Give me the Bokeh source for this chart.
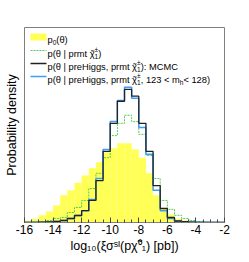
import numpy as np
from bokeh.plotting import figure
from bokeh.models import Label, BoxAnnotation, Arrow, FixedTicker, Range1d
from bokeh.embed import file_html
from bokeh.resources import INLINE

# ---------------- data ----------------
bin_edges = [-16.0, -15.5, -15.0, -14.5, -14.0, -13.5, -13.0, -12.5, -12.0, -11.5,
             -11.0, -10.5, -10.0, -9.5, -9.0, -8.5, -8.0, -7.5, -7.0, -6.5,
             -6.0, -5.5, -5.0, -4.5, -4.0, -3.5, -3.0, -2.5, -2.0]

prior = [0.005, 0.009, 0.017, 0.026, 0.040, 0.064, 0.076, 0.094, 0.111, 0.128,
         0.142, 0.165, 0.175, 0.187, 0.187, 0.172, 0.153, 0.116, 0.064, 0.033,
         0.019, 0.009, 0.005, 0.002, 0.001, 0.0007, 0.0005, 0.0002]

prmt = [0.0007, 0.0012, 0.0024, 0.0047, 0.0094, 0.0118, 0.0236, 0.0354, 0.052, 0.080,
        0.116, 0.153, 0.205, 0.234, 0.253, 0.238, 0.208, 0.158, 0.104, 0.052,
        0.031, 0.017, 0.0094, 0.0047, 0.0024, 0.0014, 0.0007, 0.0005]

prehiggs_mcmc = [0.0002, 0.0005, 0.0007, 0.0014, 0.0024, 0.0047, 0.0094, 0.0165, 0.028, 0.052,
                 0.099, 0.168, 0.234, 0.286, 0.314, 0.298, 0.234, 0.168, 0.087, 0.033,
                 0.0118, 0.0035, 0.0019, 0.0009, 0.0005, 0.0002, 0.0002, 0.0001]

prehiggs_mh = [0.0002, 0.0005, 0.0007, 0.0014, 0.0024, 0.0047, 0.0094, 0.0165, 0.028, 0.054,
               0.104, 0.172, 0.238, 0.288, 0.319, 0.293, 0.224, 0.161, 0.076, 0.028,
               0.0094, 0.0028, 0.0017, 0.0009, 0.0005, 0.0002, 0.0002, 0.0001]

x_ticks = [-16, -14, -12, -10, -8, -6, -4, -2]
x_tick_labels = ["-16", "-14", "-12", "-10", "-8", "-6", "-4", "-2"]

x_title = "log\u2081\u2080(\u03be\u03c3\u02e2\u1d35(p\u03c7\u0303\u2070\u2081) [pb])"
y_title = "Probability density"

# ---------------- figure ----------------
FONT = "Liberation Sans"
FL, FB = 24, 222   # frame left / bottom in picture pixels (for annotations)

p = figure(width=245, height=258, x_range=Range1d(-16, -2), y_range=Range1d(0, 0.46),
           output_backend="svg", toolbar_location=None,
           min_border_left=24, min_border_right=21, min_border_top=27, min_border_bottom=36)
p.xgrid.visible = False
p.ygrid.visible = False
p.outline_line_color = "#808080"
p.outline_line_width = 1

minor = list(np.arange(-16, -2.01, 0.5))
p.xaxis.ticker = FixedTicker(ticks=x_ticks, minor_ticks=minor)
p.xaxis.major_label_overrides = {t: l for t, l in zip(x_ticks, x_tick_labels)}
p.xaxis.axis_line_color = "#808080"
p.xaxis.major_tick_in = 5
p.xaxis.major_tick_out = 0
p.xaxis.minor_tick_in = 3
p.xaxis.minor_tick_out = 0
p.xaxis.major_tick_line_color = "#444444"
p.xaxis.minor_tick_line_color = "#444444"
p.xaxis.major_label_text_font = FONT
p.xaxis.major_label_text_font_size = "12px"
p.xaxis.major_label_text_color = "black"
p.xaxis.major_label_standoff = 2
p.xaxis.axis_label = x_title
p.xaxis.axis_label_text_font = FONT
p.xaxis.axis_label_text_font_size = "12.5px"
p.xaxis.axis_label_text_font_style = "normal"
p.xaxis.axis_label_text_color = "black"
p.xaxis.axis_label_standoff = 2

p.yaxis.ticker = FixedTicker(ticks=[])
p.yaxis.axis_line_color = None
p.yaxis.major_tick_line_color = None
p.yaxis.minor_tick_line_color = None
p.yaxis.major_label_standoff = 0
p.yaxis.axis_label = y_title
p.yaxis.axis_label_text_font = FONT
p.yaxis.axis_label_text_font_size = "12.5px"
p.yaxis.axis_label_text_font_style = "normal"
p.yaxis.axis_label_text_color = "black"
p.yaxis.axis_label_standoff = 6

left = bin_edges[:-1]
right = bin_edges[1:]
p.quad(left=left, right=right, bottom=0, top=prior, fill_color="#ffff55", line_color=None)

def stepy(v):
    return list(v) + [v[-1]]

p.step(x=bin_edges, y=stepy(prmt), mode="after", line_color="#55cc55", line_width=1, line_dash="2 1")
p.step(x=bin_edges, y=stepy(prehiggs_mh), mode="after", line_color="#3d9eff", line_width=1.5)
p.step(x=bin_edges, y=stepy(prehiggs_mcmc), mode="after", line_color="#222222", line_width=1.3)

# ---------------- rich text helpers (legend) ----------------
W = {' ': 278, '(': 333, ')': 333, ',': 278, '-': 333, '.': 278, ':': 278, '<': 584,
     '[': 278, ']': 278, '|': 260, '±': 584, 'a': 556, 'b': 556, 'c': 500, 'd': 556,
     'e': 556, 'g': 556, 'h': 556, 'i': 222, 'l': 222, 'm': 833, 'n': 556, 'o': 556,
     'p': 556, 'r': 333, 's': 500, 't': 278, 'y': 500, 'C': 722, 'G': 778, 'H': 722,
     'I': 278, 'M': 833, 'S': 667, 'P': 667, 'θ': 556, 'χ': 520, 'ξ': 470, 'σ': 580}

def tw(s, size):
    return sum(W.get(c, 556) for c in s) * size / 1000.0

def lab(x, y, text, size, align="left"):
    p.add_layout(Label(x=x - FL, y=FB - y, x_units="screen", y_units="screen",
                       text=text, text_font=FONT, text_font_size=f"{size}px",
                       text_color="black", text_baseline="alphabetic", text_align=align))

def rich(x0, y0, pieces, size):
    ss = size * 0.7
    x = x0
    for t, m in pieces:
        if m == "n":
            lab(x, y0, t.rstrip(), size)
            x += tw(t, size)
        elif m == "chi":
            w = tw("χ", size)
            lab(x, y0, "χ", size)
            lab(x + w / 2 + 0.3, y0 + 0.3, "\u02dc", size, align="center")
            x += w
        elif m == "sub":
            lab(x, y0 + size * 0.28, t, ss)
            x += tw(t, ss)
        elif m == "sup":
            lab(x, y0 - size * 0.42, t, ss)
            x += tw(t, ss)
        else:
            lab(x, y0 - size * 0.45, t[0], ss)
            lab(x, y0 + size * 0.3, t[1], ss)
            x += max(tw(t[0], ss), tw(t[1], ss))

# ---------------- legend ----------------
LS = 9.3
legend_rows = [
    [("p", "n"), ("0", "sub"), ("(θ)", "n")],
    [("p(θ | prmt ", "n"), ("χ", "chi"), (("±", "1"), "supsub"), (")", "n")],
    [("p(θ | preHiggs, prmt ", "n"), ("χ", "chi"), (("±", "1"), "supsub"), ("): MCMC", "n")],
    [("p(θ | preHiggs, prmt ", "n"), ("χ", "chi"), (("±", "1"), "supsub"),
     (", 123 < m", "n"), ("h", "sub"), (" < 128)", "n")],
]
baselines = [39, 53, 66, 79]
for r, b in zip(legend_rows, baselines):
    rich(47, b, r, LS)

p.add_layout(BoxAnnotation(left=30 - FL, right=46 - FL, bottom=FB - 40, top=FB - 33,
                           left_units="screen", right_units="screen",
                           bottom_units="screen", top_units="screen",
                           fill_color="#ffff55", fill_alpha=1, line_color=None))
sw = [("#55cc55", 1, "2 1", 50), ("#222222", 1.3, "solid", 63), ("#3d9eff", 1.5, "solid", 76)]
for c, lw, dash, yy in sw:
    p.add_layout(Arrow(end=None, x_start=30 - FL, x_end=46 - FL, y_start=FB - yy, y_end=FB - yy,
                       start_units="screen", end_units="screen",
                       line_color=c, line_width=lw, line_dash=dash))

open("out.html", "w").write(file_html(p, INLINE))
